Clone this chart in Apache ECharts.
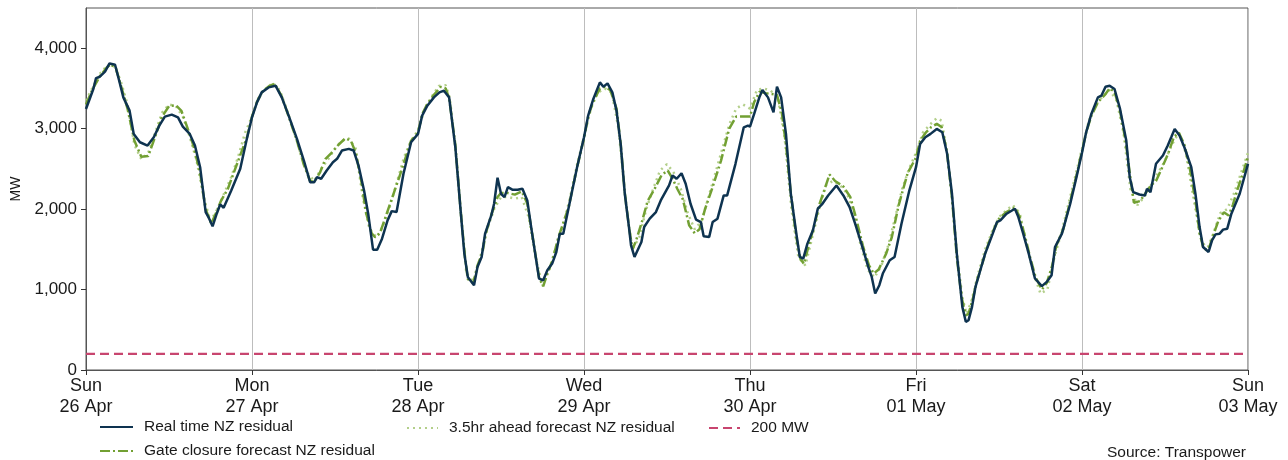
<!DOCTYPE html>
<html>
<head>
<meta charset="utf-8">
<script src="https://cdn.jsdelivr.net/npm/echarts@6/dist/echarts.min.js"></script>
<style>
	html, body { margin: 0; padding: 0; background: #fff; }
	#chart { width: 1288px; height: 460px; }
</style>
</head>
<body>
<div id="chart"></div>
<script>
// x axis is hours since Sun 26 Apr 00:00, one label per day
var dayLabels = ['Sun\n26 Apr', 'Mon\n27 Apr', 'Tue\n28 Apr', 'Wed\n29 Apr', 'Thu\n30 Apr', 'Fri\n01 May', 'Sat\n02 May', 'Sun\n03 May'];

// Real time NZ residual (MW)
var rtHours = [0, 1.06, 1.45, 2, 2.75, 3.4, 4.2, 4.8, 5.4, 6.3, 6.9, 7.8, 8.9, 9.8, 10.6, 11.4, 12.4, 13.3, 14, 15, 15.75, 16.5, 17.3, 17.7, 18.3, 18.9, 19.4, 19.9, 21, 22.3, 23.2,
	24, 24.72, 25.4, 26.4, 27.4, 28.3, 29.3, 30.5, 31.5, 32.4, 33, 33.4, 34, 34.8, 35.7, 36.3, 37, 38, 38.7, 39.4, 40.2, 40.8, 41.5, 42.1, 42.8, 43.6, 44.2, 44.9, 45.9, 47,
	48, 48.6, 49.35, 50.3, 51.1, 51.75, 52.5, 53.4, 54.2, 54.7, 55.2, 56.1, 56.6, 57.2, 57.7, 58.6, 59, 59.5, 60, 60.5, 61, 61.7, 62.4, 63.1, 63.8, 64.5, 65.5, 66.1, 66.7, 67.4, 68, 68.5, 69, 69.8, 71,
	72, 72.6, 73.35, 74.3, 74.8, 75.4, 76.1, 76.7, 77.3, 77.9, 78.5, 78.8, 79.3, 80.3, 80.7, 81.5, 82.4, 83.1, 83.9, 84.3, 84.8, 85.4, 86.1, 86.7, 87.4, 88.2, 88.9, 89.3, 90.1, 90.6, 91.3, 92.2, 92.7, 93.9, 95.1, 95.7,
	96, 96.6, 97.35, 97.8, 98.6, 99.4, 99.9, 100.5, 101.2, 101.9, 102.7, 103.2, 103.7, 104.3, 105.1, 105.8, 106.4, 107.3, 108.5, 109.5, 110.4, 111.2, 112.1, 113.1, 113.6, 114.1, 114.7, 115.2, 116.2, 116.9, 117.9, 119,
	120, 120.6, 121.35, 122.1, 123, 123.8, 124.5, 125.2, 125.9, 126.7, 127.2, 127.6, 128.1, 128.6, 129.3, 130, 131, 131.7, 132.2, 133.1, 134.3, 134.8, 135.5, 136.3, 137.2, 138.2, 138.9, 139.6, 140.1, 141.1, 142.3, 143.2,
	144, 144.6, 145.35, 146.3, 146.8, 147.4, 148, 148.7, 149.5, 150.4, 150.9, 151.4, 152.3, 153.1, 153.4, 153.9, 154.7, 155.7, 156.4, 156.9, 157.4, 158.1, 158.8, 159.8, 160.4, 161, 161.5, 162.3, 162.8, 163.3, 163.9, 164.4, 165, 165.6, 166.8, 168];
var rtMW = [3245, 3493, 3629, 3646, 3708, 3811, 3794, 3596, 3389, 3224, 2935, 2831, 2790, 2893, 3038, 3150, 3174, 3141, 3026, 2935, 2790, 2521, 1963, 1901, 1786, 1943, 2058, 2017, 2232, 2501, 2852,
	3141, 3327, 3451, 3513, 3534, 3389, 3162, 2873, 2604, 2335, 2335, 2397, 2377, 2480, 2583, 2625, 2728, 2749, 2728, 2542, 2232, 1943, 1496, 1496, 1633, 1860, 1975, 1963, 2439, 2831,
	2935, 3162, 3286, 3389, 3451, 3472, 3389, 2769, 1943, 1447, 1157, 1054, 1281, 1405, 1695, 1922, 2067, 2390, 2191, 2149, 2273, 2240, 2240, 2253, 2108, 1695, 1137, 1116, 1240, 1323, 1467, 1695, 1695, 2025, 2521,
	2893, 3162, 3369, 3575, 3522, 3563, 3451, 3224, 2811, 2191, 1777, 1550, 1405, 1591, 1777, 1881, 1963, 2108, 2232, 2294, 2418, 2377, 2446, 2315, 2067, 1869, 1839, 1662, 1653, 1839, 1881, 2170, 2170, 2563, 3017, 3038,
	3026, 3183, 3389, 3481, 3389, 3203, 3522, 3389, 2935, 2191, 1695, 1405, 1385, 1571, 1736, 2005, 2058, 2170, 2294, 2170, 2025, 1819, 1571, 1281, 1157, 951, 1054, 1199, 1364, 1405, 1819, 2220,
	2521, 2811, 2893, 2935, 2997, 2955, 2687, 2191, 1447, 785, 599, 620, 785, 1033, 1240, 1447, 1674, 1839, 1860, 1943, 2005, 1901, 1695, 1447, 1137, 1042, 1095, 1178, 1529, 1695, 2067, 2397,
	2700, 2955, 3183, 3389, 3410, 3522, 3534, 3493, 3245, 2852, 2397, 2211, 2182, 2170, 2253, 2211, 2563, 2666, 2790, 2893, 2997, 2914, 2769, 2521, 2191, 1777, 1529, 1467, 1612, 1686, 1695, 1745, 1757, 1943, 2191, 2563];

// Gate closure forecast NZ residual (MW)
var gateHours = [0, 1, 2, 3, 3.5, 4.3, 5, 6, 7, 8, 9, 10, 11, 12, 13, 13.8, 14.5, 15.5, 16.5, 17.3, 18.1, 18.8, 19.5, 20.5, 22, 23.3,
	24, 24.7, 25.5, 26.5, 27.3, 28.3, 29.3, 30.5, 31.5, 32.4, 33, 33.8, 34.6, 35.5, 36.5, 37.5, 38.3, 39, 39.8, 40.5, 41.3, 41.8, 42.5, 43.5, 44.3, 45.5, 47,
	48, 48.6, 49.3, 50.3, 51.3, 52, 52.5, 53.4, 54.2, 54.8, 55.2, 56, 56.6, 57.3, 57.8, 58.6, 59.5, 60, 61, 62, 63, 63.8, 64.5, 65.5, 66.1, 66.7, 67.4, 68.3, 69.8, 71,
	72, 72.6, 73.3, 74.3, 75, 75.8, 76.7, 77.3, 77.9, 78.5, 79, 79.5, 80.4, 81.2, 82.2, 83.2, 84.1, 84.8, 85.5, 86.3, 87.2, 88, 88.7, 89.5, 90.5, 91.8, 93, 94,
	96, 96.6, 97.4, 98.3, 99.2, 99.9, 100.6, 101.2, 101.9, 102.7, 103.3, 103.8, 104.5, 105.3, 106, 106.8, 107.5, 108.3, 109.5, 110.5, 111.3, 112.3, 113.2, 113.9, 114.6, 115.7, 116.5, 117.5, 118.8,
	120, 120.6, 121.4, 122.2, 123, 123.7, 124.5, 125.2, 125.9, 126.6, 127.2, 127.6, 128.2, 128.8, 129.5, 130.2, 131, 132, 133, 134.3, 135, 135.8, 136.5, 137.3, 138.2, 138.9, 139.7, 140.3, 141.3, 142.3, 143.2,
	144, 144.6, 145.3, 146.3, 147.3, 148, 148.7, 149.5, 150.3, 150.9, 151.5, 152.4, 153.2, 154, 154.7, 155.5, 156.5, 157.3, 158, 158.8, 159.5, 160.4, 161, 161.6, 162.3, 163, 163.7, 164.5, 165.2, 165.8, 166.5, 167.3, 168];
var gateMW = [3300, 3500, 3650, 3760, 3800, 3760, 3550, 3250, 2850, 2650, 2660, 2900, 3150, 3280, 3290, 3220, 3050, 2800, 2450, 2000, 1820, 1950, 2100, 2250, 2600, 2900,
	3150, 3330, 3460, 3530, 3560, 3400, 3150, 2850, 2550, 2350, 2340, 2450, 2620, 2700, 2800, 2880, 2850, 2700, 2350, 1950, 1700, 1650, 1700, 1950, 2150, 2450, 2850,
	2950, 3180, 3300, 3420, 3520, 3500, 3380, 2800, 1950, 1400, 1130, 1080, 1300, 1450, 1700, 1930, 2150, 2200, 2200, 2180, 2220, 2070, 1700, 1150, 1040, 1200, 1350, 1650, 2030, 2520,
	2880, 3150, 3330, 3500, 3520, 3480, 3250, 2820, 2200, 1780, 1500, 1600, 1850, 2100, 2250, 2420, 2480, 2380, 2250, 2120, 1800, 1700, 1750, 2000, 2250, 2600, 3000, 3150,
	3150, 3330, 3460, 3440, 3430, 3420, 3200, 2800, 2200, 1650, 1380, 1320, 1550, 1800, 2050, 2250, 2430, 2350, 2280, 2150, 1900, 1550, 1300, 1200, 1250, 1450, 1650, 2050, 2450,
	2640, 2850, 2950, 3020, 3060, 3020, 2700, 2150, 1400, 900, 680, 700, 880, 1100, 1300, 1500, 1700, 1880, 1960, 2020, 1900, 1650, 1400, 1150, 1000, 1080, 1300, 1550, 1750, 2100, 2420,
	2720, 2950, 3150, 3330, 3420, 3500, 3460, 3220, 2850, 2450, 2080, 2100, 2200, 2300, 2350, 2500, 2700, 2900, 2950, 2800, 2550, 2100, 1700, 1500, 1500, 1680, 1850, 1960, 1920, 2050, 2250, 2450, 2650];

// 3.5hr ahead forecast NZ residual (MW)
var aheadHours = [0, 1, 2, 3, 4, 5, 6, 7, 8, 9, 10, 11, 12, 13, 14, 15, 16, 17, 18, 19, 20, 21, 22, 23,
	24, 25, 26, 27, 28, 29, 30, 31, 32, 33, 34, 35, 36, 37, 38, 39, 40, 41, 42, 43, 44, 45, 46, 47,
	48, 49, 50, 51, 52, 52.6, 53.4, 54.3, 55, 56, 57, 58, 59, 60, 61, 62, 63, 64, 65, 66, 67, 68, 69, 70, 71,
	72, 73, 74, 75, 76, 77, 78, 79, 80, 81, 82, 83, 84, 85, 86, 87, 88, 89, 90, 91, 92, 93, 94, 95,
	96, 97, 98, 99, 100, 101, 102, 103, 104, 105, 106, 107, 108, 109, 110, 111, 112, 113, 114, 115, 116, 117, 118, 119,
	120, 121, 122, 123, 123.7, 124.5, 125.3, 126, 126.7, 127.3, 128, 129, 130, 131, 132, 133, 134, 135, 136, 137, 138, 139, 140, 141, 142, 143,
	144, 145, 146, 147, 148, 149, 150, 151, 152, 153, 154, 155, 156, 157, 158, 159, 160, 161, 162, 163, 164, 165, 166, 167, 168];
var aheadMW = [3350, 3520, 3680, 3780, 3790, 3600, 3300, 2800, 2620, 2700, 2950, 3200, 3300, 3280, 3150, 2900, 2600, 2150, 1850, 2000, 2200, 2400, 2650, 2950,
	3150, 3400, 3500, 3570, 3480, 3250, 2980, 2700, 2450, 2350, 2500, 2620, 2750, 2850, 2880, 2750, 2150, 1750, 1650, 1800, 2050, 2350, 2650, 2850,
	2980, 3250, 3400, 3530, 3540, 3380, 2750, 1850, 1200, 1100, 1400, 1750, 2000, 2150, 2150, 2130, 2150, 1900, 1400, 1050, 1250, 1550, 1800, 2150, 2550,
	2900, 3250, 3450, 3500, 3450, 3000, 2100, 1500, 1650, 2000, 2250, 2480, 2560, 2450, 2250, 1950, 1750, 1850, 2150, 2450, 2750, 3050, 3250, 3300,
	3250, 3480, 3500, 3470, 3400, 2900, 2000, 1400, 1300, 1650, 2000, 2300, 2350, 2300, 2200, 1950, 1550, 1250, 1150, 1300, 1550, 1900, 2250, 2500,
	2700, 2950, 3050, 3130, 3100, 2700, 2050, 1400, 900, 700, 850, 1200, 1500, 1720, 1900, 1980, 2050, 1950, 1550, 1200, 950, 1000, 1400, 1700, 2050, 2400,
	2750, 3100, 3300, 3400, 3480, 3350, 2950, 2250, 2050, 2150, 2300, 2450, 2600, 2800, 2950, 2700, 2200, 1700, 1480, 1700, 1950, 2000, 2200, 2450, 2700];

// 200 MW reference line
var refHours = [0, 168];
var refMW = [200, 200];

var yTicks = [0, 1000, 2000, 3000, 4000];

function pairs(xs, ys) {
	var out = [];
	for (var i = 0; i < xs.length; i++) {
		out.push([xs[i], ys[i]]);
	}
	return out;
}

// one legend per item so each can sit where the reference has it
function legendAt(name, left, top, iconW) {
	return {
		left: left,
		top: top,
		padding: 0,
		itemWidth: iconW,
		itemHeight: 10,
		itemStyle: { opacity: 0 },
		textStyle: {
			color: '#1a1a1a',
			fontSize: 15.5,
			padding: [0, 0, 0, 6],
			fontFamily: 'Liberation Sans, Arial, sans-serif'
		},
		data: [name]
	};
}

var chart = echarts.init(document.getElementById('chart'));

var option = {
	animation: false,
	backgroundColor: '#ffffff',
	textStyle: { fontFamily: 'Liberation Sans, Arial, sans-serif' },
	grid: {
		left: 86,
		right: 40,
		top: 8,
		bottom: 90,
		show: true,
		borderColor: '#555555',
		borderWidth: 1
	},
	legend: [
		legendAt('Real time NZ residual', 99, 419, 33),
		legendAt('Gate closure forecast NZ residual', 99, 443, 33),
		legendAt('3.5hr ahead forecast NZ residual', 406, 420, 31),
		legendAt('200 MW', 708, 420, 31)
	],
	graphic: [{
		type: 'text',
		right: 42,
		top: 445,
		style: {
			text: 'Source: Transpower',
			fill: '#1a1a1a',
			font: '15.5px Liberation Sans, Arial, sans-serif'
		}
	}],
	xAxis: {
		type: 'value',
		min: 0,
		max: 168,
		interval: 24,
		axisLine: { show: true, lineStyle: { color: '#555555', width: 1 } },
		axisTick: { show: true, length: 5, lineStyle: { color: '#333333' } },
		splitLine: { show: true, lineStyle: { color: '#bdbdbd', width: 1 } },
		axisLabel: {
			color: '#1a1a1a',
			fontSize: 18,
			lineHeight: 21,
			margin: 6,
			formatter: function (v) {
				return dayLabels[Math.round(v / 24)];
			}
		}
	},
	yAxis: {
		type: 'value',
		min: 0,
		max: 4500,
		interval: 1000,
		name: 'MW',
		nameLocation: 'middle',
		nameGap: 62,
		nameRotate: 90,
		nameTextStyle: { color: '#1a1a1a', fontSize: 14 },
		axisLine: { show: true, lineStyle: { color: '#555555', width: 1 } },
		axisTick: { show: true, length: 5, customValues: yTicks, lineStyle: { color: '#333333' } },
		splitLine: { show: false },
		axisLabel: {
			color: '#1a1a1a',
			fontSize: 17,
			margin: 9,
			customValues: yTicks,
			formatter: function (v) {
				return v.toLocaleString('en-US');
			}
		}
	},
	series: [{
		name: '200 MW',
		type: 'line',
		showSymbol: false,
		symbol: 'none',
		data: pairs(refHours, refMW),
		lineStyle: { color: '#c8456f', width: 2.2, type: [9, 5] },
		itemStyle: { color: '#c8456f' },
		z: 2
	}, {
		name: '3.5hr ahead forecast NZ residual',
		type: 'line',
		showSymbol: false,
		symbol: 'none',
		data: pairs(aheadHours, aheadMW),
		lineStyle: { color: '#b3cf8a', width: 2.5, type: [2, 4] },
		itemStyle: { color: '#b3cf8a' },
		z: 3
	}, {
		name: 'Gate closure forecast NZ residual',
		type: 'line',
		showSymbol: false,
		symbol: 'none',
		data: pairs(gateHours, gateMW),
		lineStyle: { color: '#72a033', width: 2.5, type: [10, 3, 2, 3] },
		itemStyle: { color: '#72a033' },
		z: 4
	}, {
		name: 'Real time NZ residual',
		type: 'line',
		showSymbol: false,
		symbol: 'none',
		data: pairs(rtHours, rtMW),
		lineStyle: { color: '#0e3350', width: 2.5 },
		itemStyle: { color: '#0e3350' },
		z: 5
	}]
};

chart.setOption(option);
</script>
</body>
</html>
